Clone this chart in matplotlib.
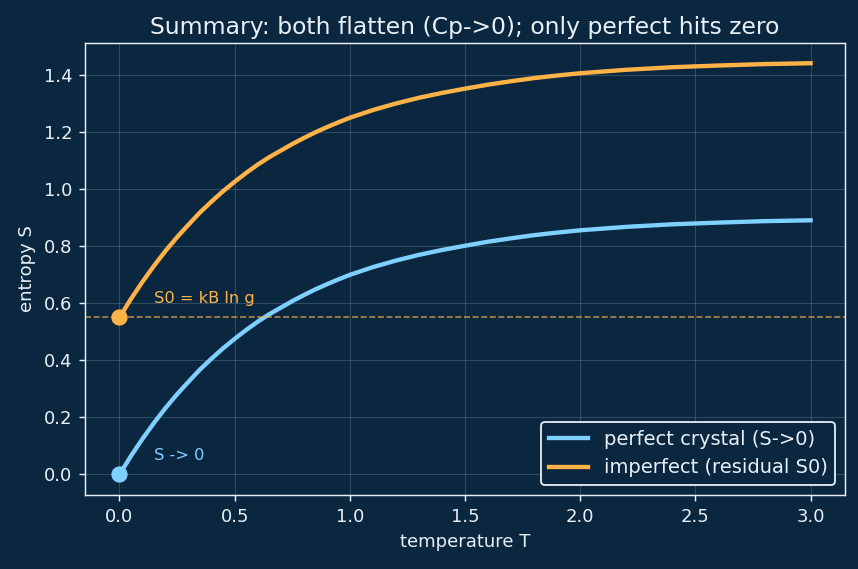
import matplotlib
matplotlib.use("Agg")
import matplotlib.pyplot as plt

# values
temperature = [0.0, 0.05, 0.1, 0.15, 0.2, 0.25, 0.3, 0.35, 0.4, 0.45, 0.5,
               0.55, 0.6, 0.65, 0.7, 0.75, 0.8, 0.85, 0.9, 0.95, 1.0,
               1.1, 1.2, 1.3, 1.4, 1.5, 1.6, 1.7, 1.8, 1.9, 2.0,
               2.2, 2.4, 2.6, 2.8, 3.0]
s_perfect = [0.000, 0.065, 0.125, 0.181, 0.233, 0.281, 0.325, 0.368, 0.406, 0.442, 0.475,
             0.506, 0.535, 0.561, 0.584, 0.607, 0.628, 0.648, 0.666, 0.683, 0.699,
             0.726, 0.749, 0.769, 0.786, 0.801, 0.815, 0.827, 0.838, 0.847, 0.855,
             0.867, 0.876, 0.882, 0.887, 0.890]
s_imperfect = [0.550, 0.615, 0.675, 0.731, 0.783, 0.831, 0.875, 0.918, 0.956, 0.992, 1.025,
               1.056, 1.085, 1.111, 1.134, 1.157, 1.178, 1.198, 1.216, 1.233, 1.249,
               1.276, 1.299, 1.319, 1.336, 1.351, 1.365, 1.377, 1.388, 1.397, 1.405,
               1.417, 1.426, 1.432, 1.437, 1.440]
s0 = 0.55

bg = "#0b2740"
fg = "#e8f0f8"
blue = "#7fd0ff"
orange = "#ffb347"

fig, ax = plt.subplots(figsize=(6.6, 4.377), dpi=130)
fig.patch.set_facecolor(bg)
ax.set_facecolor(bg)

ax.plot(temperature, s_perfect, color=blue, lw=2.4, label="perfect crystal (S->0)")
ax.plot(temperature, s_imperfect, color=orange, lw=2.4, label="imperfect (residual S0)")
ax.axhline(s0, color=orange, ls="--", lw=0.9, alpha=0.7)
ax.plot([0], [s_perfect[0]], "o", color=blue, ms=8)
ax.plot([0], [s_imperfect[0]], "o", color=orange, ms=8)
ax.text(0.15, 0.05, "S -> 0", color=blue, fontsize=9)
ax.text(0.15, 0.6, "S0 = kB ln g", color=orange, fontsize=9)

ax.set_title("Summary: both flatten (Cp->0); only perfect hits zero", color=fg, fontsize=13, pad=5)
ax.set_xlabel("temperature T", color=fg)
ax.set_ylabel("entropy S", color=fg)
ax.grid(True, color="#9fb4c8", alpha=0.25, lw=0.6)
ax.tick_params(colors=fg)
for sp in ax.spines.values():
    sp.set_color(fg)

leg = ax.legend(loc="lower right", facecolor=bg, edgecolor=fg, labelcolor=fg, fontsize=10.8)
leg.get_frame().set_alpha(1)

fig.subplots_adjust(left=0.099, right=0.985, top=0.925, bottom=0.13)
fig.savefig("out.png", dpi=130, facecolor=bg)
